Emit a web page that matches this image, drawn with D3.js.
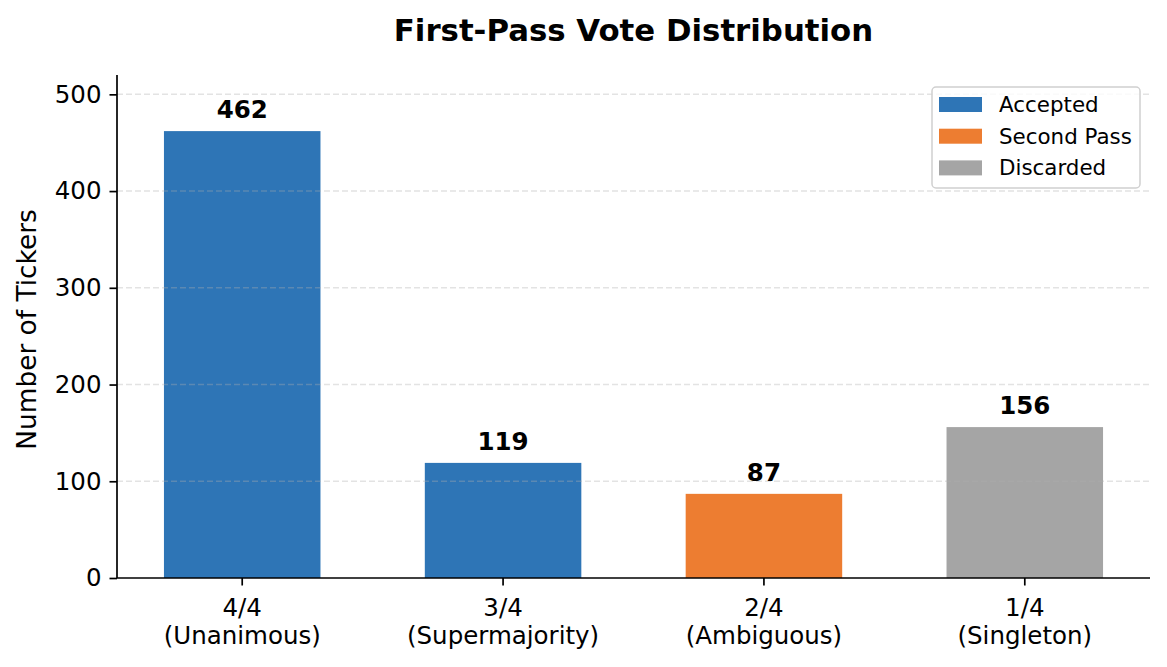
<!DOCTYPE html>
<html>
<head>
<meta charset="utf-8">
<script src="https://d3js.org/d3.v7.min.js"></script>
<style>
	body { margin: 0; background: #fff; }
	svg text { font-family: "DejaVu Sans", sans-serif; fill: #000; }
	.axis path, .axis line { stroke: #000; stroke-width: 1.7px; }
	.grid line { stroke: #b0b0b0; stroke-opacity: 0.35; stroke-width: 1.5px; stroke-dasharray: 6,3; }
</style>
</head>
<body>
<svg id="chart" width="1167" height="667"></svg>
<script>
	// data
	var categories = ["4/4|(Unanimous)", "3/4|(Supermajority)", "2/4|(Ambiguous)", "1/4|(Singleton)"];
	var counts = [462, 119, 87, 156];
	var groups = ["Accepted", "Accepted", "Second Pass", "Discarded"];
	var legendItems = ["Accepted", "Second Pass", "Discarded"];
	var legendColors = ["#2E75B6", "#ED7D31", "#A5A5A5"];
	var yTicks = [0, 100, 200, 300, 400, 500];

	var margin = {top: 75, right: 17, bottom: 89, left: 117},
		width = 1167 - margin.left - margin.right,
		height = 667 - margin.top - margin.bottom;

	var svg = d3.select("#chart");
	var g = svg.append("g")
		.attr("transform", "translate(" + margin.left + "," + margin.top + ")");

	var color = d3.scaleOrdinal().domain(legendItems).range(legendColors);

	var x = d3.scaleBand()
		.domain(categories)
		.range([0, width])
		.paddingInner(0.4)
		.paddingOuter(0.18);

	var y = d3.scaleLinear()
		.domain([0, 520])
		.range([height, 0]);

	var data = categories.map(function(c, i) {
		return {cat: c, count: counts[i], group: groups[i]};
	});

	// bars
	g.selectAll(".bar")
		.data(data)
		.enter().append("rect")
		.attr("class", "bar")
		.attr("x", function(d) { return x(d.cat); })
		.attr("width", x.bandwidth())
		.attr("y", function(d) { return y(d.count); })
		.attr("height", function(d) { return height - y(d.count); })
		.attr("fill", function(d) { return color(d.group); });

	// grid (drawn over bars, faint)
	g.append("g")
		.attr("class", "grid")
		.selectAll("line")
		.data(yTicks.filter(function(t) { return t > 0; }))
		.enter().append("line")
		.attr("x1", 0).attr("x2", width)
		.attr("y1", function(d) { return y(d); })
		.attr("y2", function(d) { return y(d); });

	// value labels
	g.selectAll(".val")
		.data(data)
		.enter().append("text")
		.attr("class", "val")
		.attr("x", function(d) { return x(d.cat) + x.bandwidth() / 2; })
		.attr("y", function(d) { return y(d.count) - 13; })
		.attr("text-anchor", "middle")
		.style("font-size", "24.5px")
		.style("font-weight", "bold")
		.text(function(d) { return d.count; });

	// axes
	var yAxis = g.append("g")
		.attr("class", "axis")
		.call(d3.axisLeft(y).tickValues(yTicks).tickSize(7.5).tickPadding(8));
	yAxis.selectAll("text").style("font-size", "24.5px");

	var xAxis = g.append("g")
		.attr("class", "axis")
		.attr("transform", "translate(0," + height + ")")
		.call(d3.axisBottom(x).tickSize(7.5).tickSizeOuter(0).tickPadding(8));
	yAxis.select(".domain").attr("d", "M0," + height + "V0");
	xAxis.select(".domain").attr("d", "M0,0H" + width);

	xAxis.selectAll(".tick text").each(function(d) {
		var t = d3.select(this);
		var parts = d.split("|");
		t.text(null).attr("y", 0).attr("dy", null).style("font-size", "24.5px");
		t.append("tspan").attr("x", 0).attr("y", 38).text(parts[0]);
		t.append("tspan").attr("x", 0).attr("y", 66).text(parts[1]);
	});

	// y label
	svg.append("text")
		.attr("transform", "translate(36," + (margin.top + height / 2 + 3) + ") rotate(-90)")
		.attr("text-anchor", "middle")
		.style("font-size", "26.4px")
		.text("Number of Tickers");

	// title
	svg.append("text")
		.attr("x", margin.left + width / 2)
		.attr("y", 41)
		.attr("text-anchor", "middle")
		.style("font-size", "30.8px")
		.style("font-weight", "bold")
		.text("First-Pass Vote Distribution");

	// legend
	var legend = svg.append("g").attr("transform", "translate(932,87)");
	legend.append("rect")
		.attr("width", 208)
		.attr("height", 101)
		.attr("rx", 4)
		.attr("fill", "#fff")
		.attr("fill-opacity", 0.8)
		.attr("stroke", "#d0d0d0")
		.attr("stroke-width", 1.5);

	var items = legend.selectAll(".item")
		.data(legendItems)
		.enter().append("g")
		.attr("class", "item")
		.attr("transform", function(d, i) { return "translate(0," + (17.5 + i * 31.7) + ")"; });
	items.append("rect")
		.attr("x", 7).attr("y", -7.5)
		.attr("width", 43).attr("height", 15)
		.attr("fill", function(d) { return color(d); });
	items.append("text")
		.attr("x", 67).attr("y", 7.5)
		.style("font-size", "21.4px")
		.text(function(d) { return d; });
</script>
</body>
</html>
